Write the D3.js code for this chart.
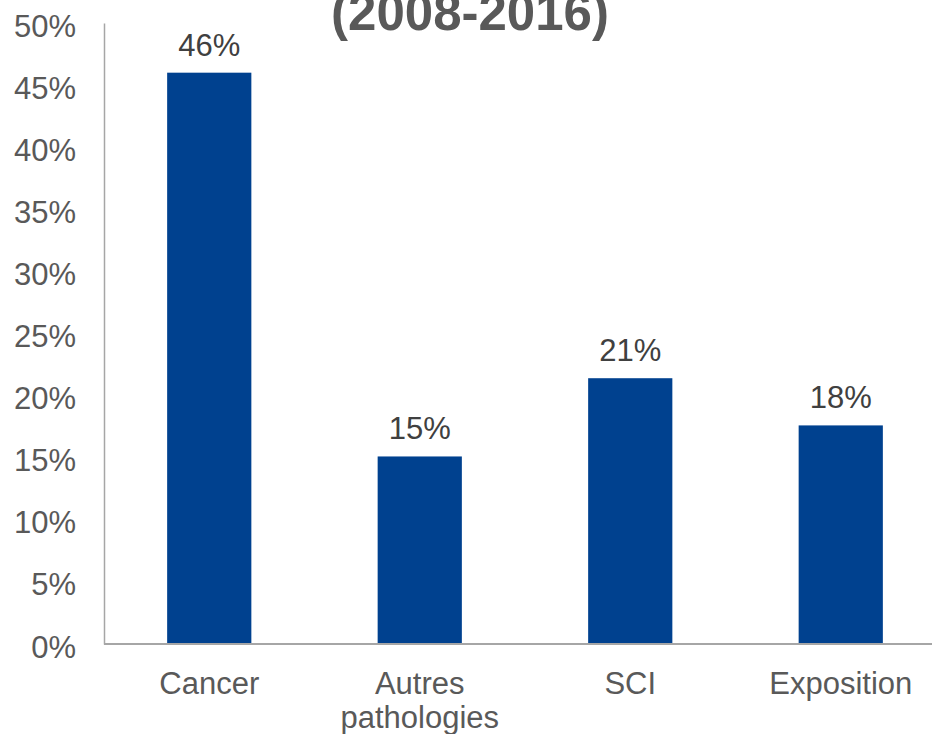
<!DOCTYPE html>
<html>
<head>
<meta charset="utf-8">
<script src="https://cdn.jsdelivr.net/npm/d3@7"></script>
<style>
  html, body { margin: 0; padding: 0; background: #fff; overflow: hidden; }
  svg { display: block; font-family: "Liberation Sans", Arial, sans-serif; }
</style>
</head>
<body>
<svg id="chart"></svg>
<script>
// chart data
const categories = ['Cancer', 'Autres\npathologies', 'SCI', 'Exposition'];
const values = [46.0, 15.1, 21.4, 17.6];
const labels = ['46%', '15%', '21%', '18%'];
const yTicks = [0, 5, 10, 15, 20, 25, 30, 35, 40, 45, 50];
const title = '(2008-2016)';

const width = 932;
const height = 734;
const marginTop = 23;
const marginLeft = 104;
const plotBottom = 644;
const plotRight = 946;

const svg = d3.select('#chart').attr('width', width).attr('height', height);

const x = d3.scaleBand()
    .domain(categories)
    .range([marginLeft, plotRight])
    .paddingInner(0.6)
    .paddingOuter(0.3);

const y = d3.scaleLinear()
    .domain([0, 50])
    .range([plotBottom, marginTop]);

// title (the top of it is cut off in the original slide too)
svg.append('text')
    .attr('x', 470)
    .attr('y', 30)
    .attr('text-anchor', 'middle')
    .attr('font-size', 51)
    .attr('font-weight', 'bold')
    .attr('fill', '#595959')
    .text(title);

// y axis
const yAxis = svg.append('g')
    .attr('transform', `translate(${marginLeft},0)`)
    .call(d3.axisLeft(y).tickValues(yTicks).tickSize(0).tickPadding(28).tickFormat((d) => d + '%'));
yAxis.select('.domain').attr('stroke', '#a6a6a6').attr('stroke-width', 1.5);
yAxis.selectAll('text')
    .attr('font-size', 31)
    .attr('fill', '#595959')
    .attr('dy', '0.42em')
    .attr('font-family', '"Liberation Sans", Arial, sans-serif');

// bars
svg.append('g')
    .selectAll('rect')
    .data(values)
    .join('rect')
    .attr('x', (d, i) => x(categories[i]))
    .attr('y', (d) => y(d))
    .attr('width', x.bandwidth())
    .attr('height', (d) => y(0) - y(d))
    .attr('fill', '#00418f');

// baseline
svg.append('line')
    .attr('x1', marginLeft)
    .attr('x2', width)
    .attr('y1', y(0))
    .attr('y2', y(0))
    .attr('stroke', '#a6a6a6')
    .attr('stroke-width', 2);

// value labels
svg.append('g')
    .selectAll('text')
    .data(values)
    .join('text')
    .attr('x', (d, i) => x(categories[i]) + x.bandwidth() / 2)
    .attr('y', (d) => y(d) - 17)
    .attr('text-anchor', 'middle')
    .attr('font-size', 31)
    .attr('fill', '#404040')
    .text((d, i) => labels[i]);

// category labels
const cat = svg.append('g')
    .selectAll('text')
    .data(categories)
    .join('text')
    .attr('x', (d) => x(d) + x.bandwidth() / 2)
    .attr('y', 694)
    .attr('text-anchor', 'middle')
    .attr('font-size', 31)
    .attr('fill', '#595959');
cat.each(function (d) {
    d.split('\n').forEach((line, j) => {
        d3.select(this).append('tspan')
            .attr('x', x(d) + x.bandwidth() / 2)
            .attr('dy', j === 0 ? 0 : 34)
            .text(line);
    });
});
</script>
</body>
</html>
